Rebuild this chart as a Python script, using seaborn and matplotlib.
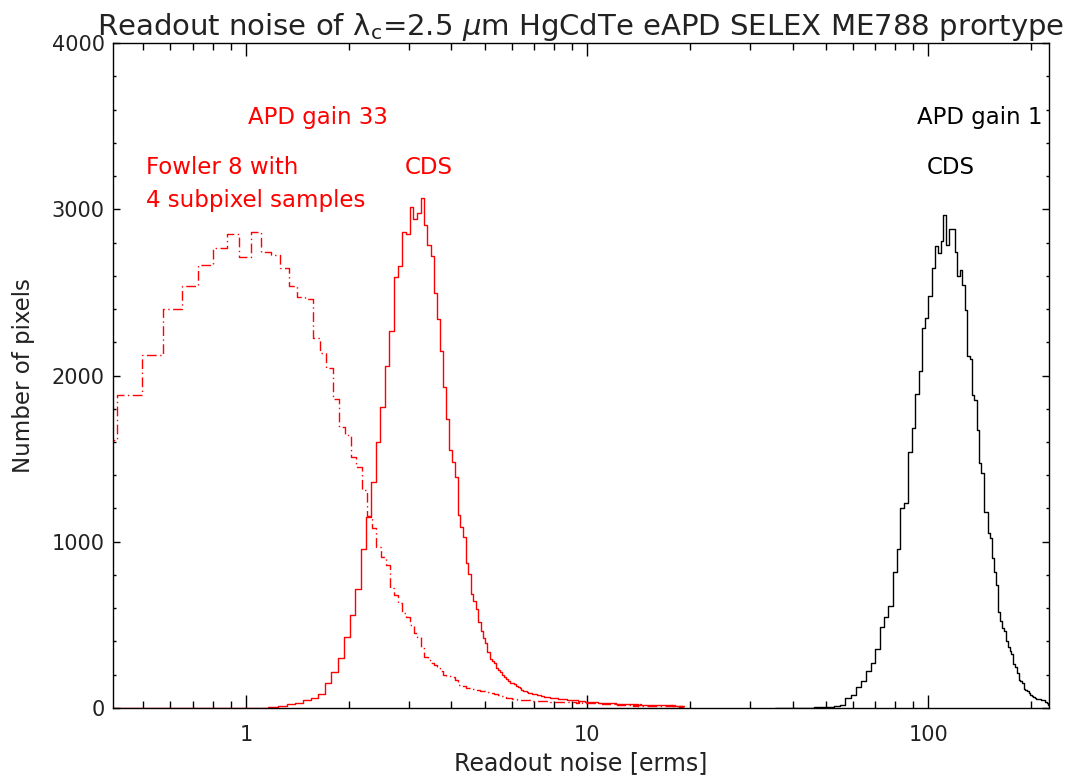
import numpy as np
import pandas as pd
import matplotlib
matplotlib.use("Agg")
import matplotlib.pyplot as plt
from matplotlib.ticker import LogLocator, NullFormatter, MultipleLocator
import seaborn as sns

# ---------------- histogram data (linear bins, counts per bin) ----------------
# APD gain 33, Fowler 8 with 4 subpixel samples
fowler_start = 0.3414
fowler_width = 0.0766
fowler_counts = [
    1612, 1883, 2123, 2400, 2538, 2665, 2765, 2849, 2715, 2861, 2745,
    2725, 2645, 2538, 2474, 2460, 2226, 2137, 2047, 1859, 1692, 1642, 1512, 1452,
    1311, 1155, 1081, 970, 910, 860, 720, 680, 630, 570, 550, 499, 449, 429,
    359, 309, 289, 270, 259, 239, 220, 198, 195, 190, 188, 170, 138, 135,
    130, 122, 120, 115, 112, 108, 108, 104, 100, 98, 96, 92, 88, 86, 82, 78,
    75, 70, 66, 62, 60, 58, 56, 55, 52, 50, 50, 48, 48, 47, 46, 46, 45, 44, 44, 44, 44,
    43, 42, 42, 41, 40, 40, 39, 39, 38, 38, 38, 38,
    37, 38, 36, 37, 36, 35, 36, 35, 34, 35, 34, 34, 33, 34, 33, 33, 32, 33, 32, 32,
    33, 31, 32, 31, 32, 32,
    31, 30, 31, 29, 30, 29, 28, 29, 27, 28, 27, 26, 27, 26, 25, 26, 25, 24,
    24, 23, 24, 22, 23, 22, 21, 22, 20, 21, 20, 19, 20, 19, 18, 19, 18, 17, 18, 17,
    16, 17, 16,
    16, 15, 16, 15, 15, 14, 15, 14, 15, 14, 14, 13, 14, 13, 14, 13, 13, 12, 13, 13,
    12, 13, 12, 12, 13, 12, 12, 11, 12, 12, 11, 12,
    11, 12, 11, 11, 12, 11, 10, 11, 11, 10, 11, 10, 11, 10, 10, 11, 10, 10, 9, 10,
    10, 9, 10, 10, 9, 10, 9, 10, 9, 9, 10, 9, 9, 8, 9, 9, 8, 9, 8, 9, 8, 8, 9, 8, 8, 7, 8,
]

# APD gain 33, CDS
cds33_start = 0.3896
cds33_width = 0.0772
cds33_counts = [
    0, 0, 0, 0, 0, 0, 0, 0, 0, 1, 4, 10,
    24, 32, 48, 62, 84, 148, 218, 299, 429, 559, 714, 956, 1151, 1361, 1598, 1812,
    2057, 2269, 2594, 2659, 2865, 2850, 3015, 2940, 2980, 3066, 2905, 2785, 2719, 2498, 2338,
    2150, 1930, 1740, 1552, 1482, 1391, 1161, 1091, 1027, 874, 804, 684, 644, 594,
    519, 465, 420, 389, 335, 293, 285, 273, 239, 228, 218, 200, 188, 173, 165, 152,
    148, 144, 132, 128, 118, 108, 105, 100, 98, 92, 88, 84,
    84, 82, 80, 78, 78, 74, 70, 68, 68, 66, 64, 62, 62, 60, 58, 58, 56, 57, 55, 54,
    52, 53, 52, 50, 50, 49, 48, 48, 47,
    46, 45, 46, 44, 44, 42, 41, 40, 39, 38, 38, 37, 36, 36, 35, 35, 34, 34, 33, 33,
    32, 32, 32,
    31, 31, 30, 30, 30, 29, 29, 29, 28, 28, 28, 28, 28, 27, 27, 26, 26, 26, 25, 25,
    25, 25, 24, 24, 24, 24, 24, 24,
    23, 24, 23, 22, 23, 22, 22, 21, 22, 21, 21, 20, 21, 20, 20, 21, 20, 19, 20, 19,
    19, 20, 19, 18, 19, 18, 19, 18, 18, 19, 18, 18, 18,
    17, 18, 17, 17, 18, 17, 16, 17, 17, 16, 17, 16, 16, 17, 16, 16, 15, 16, 16, 15,
    16, 16, 15, 16,
    15, 15, 14, 15, 14, 14, 15, 14, 13, 14, 14, 13, 14, 13, 13, 12, 13, 13, 12, 13,
    12, 12,
]

# APD gain 1, CDS
cds1_start = 35.6
cds1_width = 2.15
cds1_counts = [
    0, 0, 1, 1, 2, 3, 4, 6, 10, 20,
    58, 78, 124, 164, 224, 269, 353, 485, 549, 614, 820, 956, 1201,
    1231, 1538, 1682, 1889, 2025, 2288, 2344, 2480, 2648, 2779, 2739, 2810, 2965,
    2785, 2879, 2879, 2745, 2598,
    2635, 2544, 2394, 2117, 2100, 1883, 1853, 1672, 1472, 1412, 1181, 1181, 1051,
    1021, 900,
    820, 740, 579, 525, 480, 465, 405, 365, 340, 325, 265, 245, 209, 168, 160, 152, 116,
    108, 100, 88, 80, 72, 65, 58, 55, 52, 52, 48, 48, 45, 38, 30, 20,
]

title = r"Readout noise of λ$_\mathrm{c}$=2.5 $\mu$m HgCdTe eAPD SELEX ME788 prortype"


def hist_frame(start, width, counts):
    edges = start + width * np.arange(len(counts) + 1)
    centers = 0.5 * (edges[:-1] + edges[1:])
    return list(edges), pd.DataFrame({"noise": centers, "n": np.asarray(counts, float)})


sns.set_style("ticks")
plt.rcParams["font.family"] = ["DejaVu Sans"]
plt.rcParams["mathtext.fontset"] = "dejavusans"

fig = plt.figure(figsize=(10.69, 7.78), dpi=100)
ax = fig.add_axes([0.1057, 0.0900, 0.8756, 0.8547])

e, d = hist_frame(fowler_start, fowler_width, fowler_counts)
sns.histplot(data=d, x="noise", weights="n", bins=e, element="step", fill=False,
             color="red", linewidth=1.0, linestyle=(0, (7, 2.5, 1, 2.5)), ax=ax)

e, d = hist_frame(cds33_start, cds33_width, cds33_counts)
sns.histplot(data=d, x="noise", weights="n", bins=e, element="step", fill=False,
             color="red", linewidth=1.0, ax=ax)

e, d = hist_frame(cds1_start, cds1_width, cds1_counts)
sns.histplot(data=d, x="noise", weights="n", bins=e, element="step", fill=False,
             color="black", linewidth=1.0, ax=ax)

ax.set_xscale("log")
ax.set_xlim(0.407, 226)
ax.set_ylim(0, 4000)

ax.set_xticks([1, 10, 100], labels=["1", "10", "100"])
ax.xaxis.set_minor_locator(LogLocator(base=10, subs=np.arange(2, 10)))
ax.xaxis.set_minor_formatter(NullFormatter())
ax.set_yticks([0, 1000, 2000, 3000, 4000])
ax.yaxis.set_minor_locator(MultipleLocator(200))

ax.tick_params(axis="both", which="both", direction="in", top=True, right=True,
               color="black", width=1.0, labelsize=15, labelcolor="#222222")
ax.tick_params(axis="x", which="major", length=9.5, pad=12)
ax.tick_params(axis="x", which="minor", length=5)
ax.tick_params(axis="y", which="major", length=5, pad=6)
ax.tick_params(axis="y", which="minor", length=2.5)
for s in ax.spines.values():
    s.set_color("black")
    s.set_linewidth(1.0)

ax.set_xlabel("Readout noise [erms]", fontsize=17, color="#222222", labelpad=5)
ax.set_ylabel("Number of pixels", fontsize=16.5, color="#222222", labelpad=12)
ax.set_title(title, fontsize=21, color="#222222", pad=6)

ax.text(1.626, 3550, "APD gain 33", color="red", fontsize=16.5, ha="center", va="center")
ax.text(0.509, 3250, "Fowler 8 with", color="red", fontsize=16.5, ha="left", va="center")
ax.text(0.509, 3050, "4 subpixel samples", color="red", fontsize=16.5, ha="left", va="center")
ax.text(3.44, 3250, "CDS", color="red", fontsize=16.5, ha="center", va="center")
ax.text(142, 3550, "APD gain 1", color="black", fontsize=16.5, ha="center", va="center")
ax.text(116.8, 3250, "CDS", color="black", fontsize=16.5, ha="center", va="center")

fig.savefig("out.png", dpi=100)
